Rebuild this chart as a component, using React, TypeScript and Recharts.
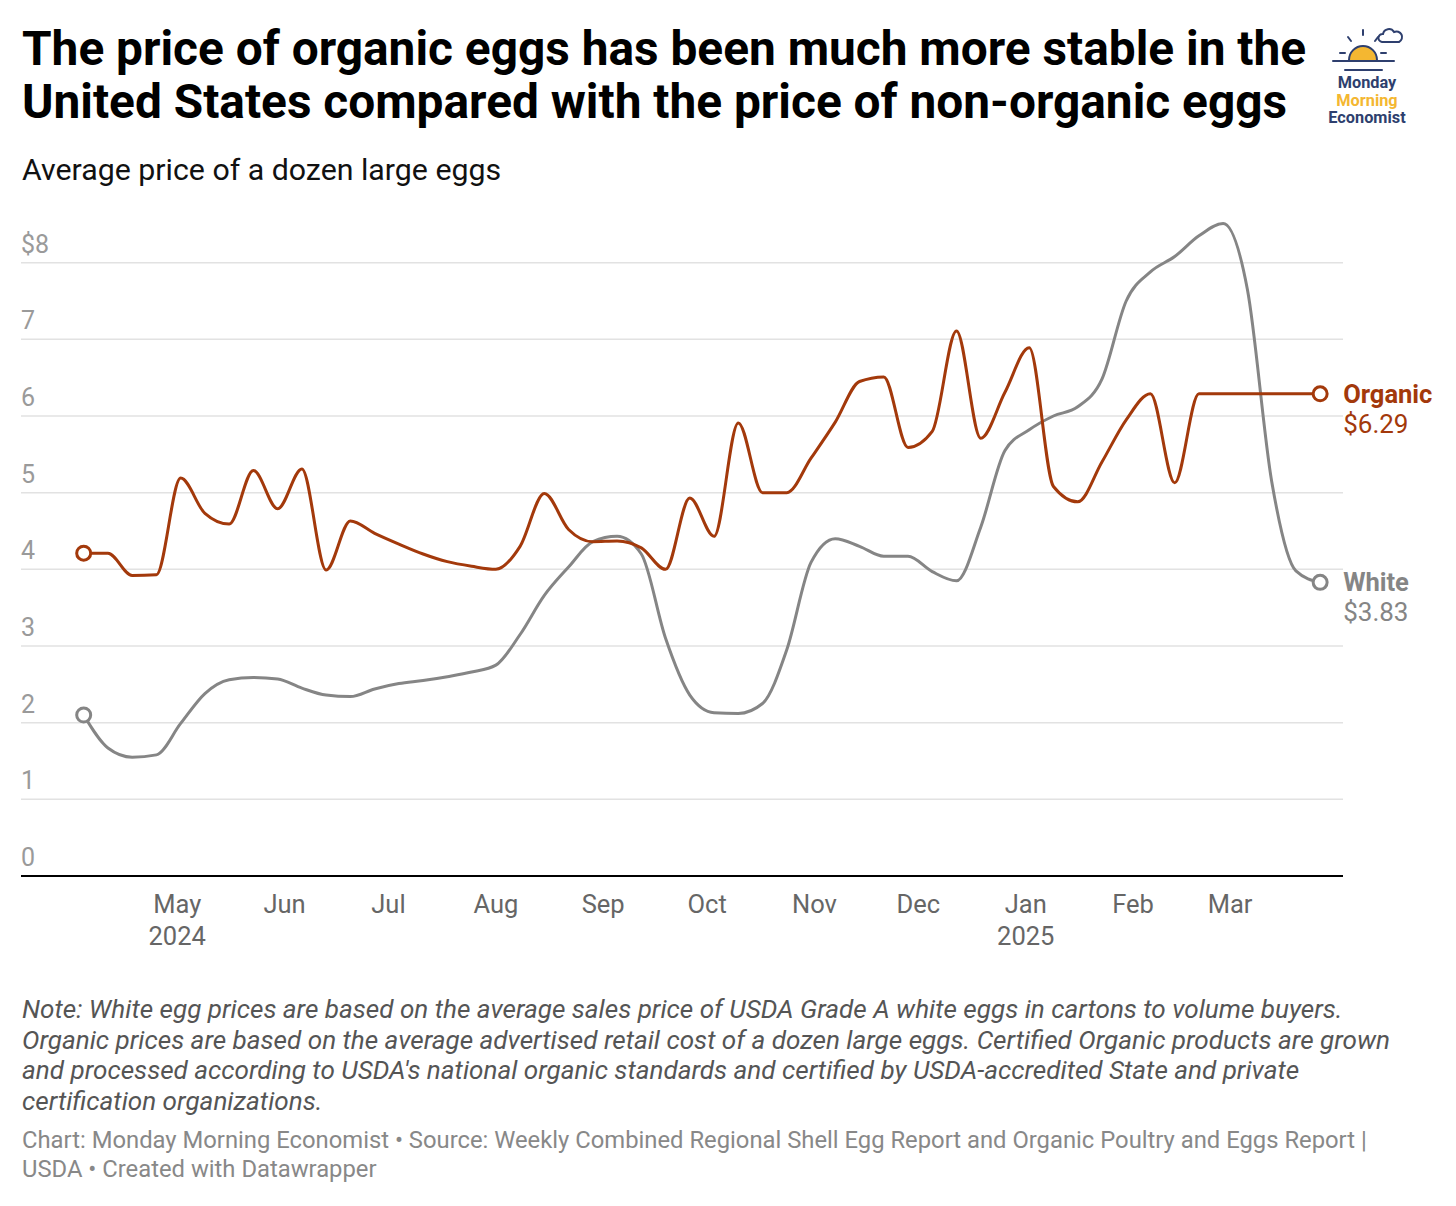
import React from "react"
import { CartesianGrid, Line, LineChart, XAxis, YAxis } from "recharts"

const dates = [
  "2024-04-04", "2024-04-11", "2024-04-18", "2024-04-25",
  "2024-05-02", "2024-05-09", "2024-05-16", "2024-05-23", "2024-05-30",
  "2024-06-06", "2024-06-13", "2024-06-20", "2024-06-27",
  "2024-07-04", "2024-07-11", "2024-07-18", "2024-07-25",
  "2024-08-01", "2024-08-08", "2024-08-15", "2024-08-22", "2024-08-29",
  "2024-09-05", "2024-09-12", "2024-09-19", "2024-09-26",
  "2024-10-03", "2024-10-10", "2024-10-17", "2024-10-24", "2024-10-31",
  "2024-11-07", "2024-11-14", "2024-11-21", "2024-11-28",
  "2024-12-05", "2024-12-12", "2024-12-19", "2024-12-26",
  "2025-01-02", "2025-01-09", "2025-01-16", "2025-01-23", "2025-01-30",
  "2025-02-06", "2025-02-13", "2025-02-20", "2025-02-27",
  "2025-03-06", "2025-03-13", "2025-03-20", "2025-03-27",
]

const organic = [
  4.21, 4.21, 3.92, 3.93,
  5.19, 4.73, 4.59, 5.29, 4.79,
  5.31, 3.99, 4.63, 4.47,
  4.33, 4.2, 4.1, 4.04,
  4.0, 4.3, 4.99, 4.52, 4.36,
  4.37, 4.28, 4.0, 4.93,
  4.43, 5.91, 5.0, 5.0, 5.45,
  5.92, 6.45, 6.51, 5.59,
  5.8, 7.11, 5.71, 6.31,
  6.89, 5.08, 4.88, 5.4, 5.95,
  6.29, 5.13, 6.29, 6.29,
  6.29, 6.29, 6.29, 6.29,
]

const white = [
  2.1, 1.67, 1.55, 1.58,
  1.99, 2.38, 2.56, 2.59, 2.57,
  2.45, 2.36, 2.34, 2.44,
  2.51, 2.55, 2.6, 2.66,
  2.75, 3.15, 3.66, 4.03, 4.36,
  4.43, 4.2, 3.1, 2.36,
  2.13, 2.12, 2.25, 2.95, 4.09,
  4.4, 4.3, 4.17, 4.17,
  3.97, 3.85, 4.55, 5.55,
  5.82, 6.0, 6.12, 6.48, 7.5,
  7.88, 8.08, 8.35, 8.51,
  7.65, 5.15, 3.98, 3.83,
]

const monthTicks = [
  "2024-05-01", "2024-06-01", "2024-07-01", "2024-08-01", "2024-09-01", "2024-10-01",
  "2024-11-01", "2024-12-01", "2025-01-01", "2025-02-01", "2025-03-01",
]
const monthNames = ["Jan", "Feb", "Mar", "Apr", "May", "Jun", "Jul", "Aug", "Sep", "Oct", "Nov", "Dec"]
const yTicks = [0, 1, 2, 3, 4, 5, 6, 7, 8]
const gridValues = [1, 2, 3, 4, 5, 6, 7, 8]

const ORANGE = "#a3390b"
const GREY = "#858585"

const day = (s: string) => Date.parse(s + "T00:00:00Z") / 86400000

const data = dates.map((d, i) => ({ t: day(d), organic: organic[i], white: white[i] }))

const xDomain = [day(dates[0]) - 18.1, day(dates[dates.length - 1]) + 6.6]

function MonthTick(props: any) {
  const { x, y, payload } = props
  const dt = new Date(payload.value * 86400000)
  const m = dt.getUTCMonth()
  const showYear = m === 4 || m === 0
  return (
    <g>
      <text x={x} y={y + 29} textAnchor="middle" fill="#666" fontSize={25.5} fontFamily="Roboto">
        {monthNames[m]}
      </text>
      {showYear && (
        <text x={x} y={y + 61} textAnchor="middle" fill="#666" fontSize={25.5} fontFamily="Roboto">
          {dt.getUTCFullYear()}
        </text>
      )}
    </g>
  )
}

function PriceTick(props: any) {
  const { x, y, payload } = props
  return (
    <text x={x} y={y - 10} textAnchor="start" fill="#9a9a9a" fontSize={25} fontFamily="Roboto">
      {payload.value === 8 ? "$8" : String(payload.value)}
    </text>
  )
}

function endDot(color: string, name: string, key: string) {
  return (props: any) => {
    const { cx, cy, index, payload } = props
    const last = index === data.length - 1
    if (index !== 0 && !last) return <g key={`${key}-${index}`} />
    return (
      <g key={`${key}-${index}`}>
        <circle cx={cx} cy={cy} r={7} fill="#fff" stroke={color} strokeWidth={3} />
        {last && (
          <>
            <text x={cx + 23} y={cy + 9} fill={color} fontSize={25.5} fontWeight={700} fontFamily="Roboto">
              {name}
            </text>
            <text x={cx + 23} y={cy + 39} fill={color} fontSize={26} fontFamily="Roboto">
              ${payload[key].toFixed(2)}
            </text>
          </>
        )}
      </g>
    )
  }
}

function Logo() {
  const navy = "#2e3f6e"
  const sun = "#f4b731"
  return (
    <svg width={96} height={110} style={{ position: "absolute", left: 1319, top: 20 }}>
      <g stroke={navy} strokeWidth={2} fill="none" strokeLinecap="round">
        <path d="M 30 40 A 14 14 0 0 1 58 40" fill={sun} />
        <line x1={44} y1={10} x2={44} y2={15} />
        <line x1={29} y1={17} x2={32} y2={21} />
        <line x1={59} y1={17} x2={56} y2={21} />
        <line x1={21} y1={33} x2={26} y2={33} />
        <line x1={62} y1={33} x2={67} y2={33} />
        <line x1={14} y1={41} x2={75} y2={41} />
        <line x1={26} y1={50} x2={63} y2={50} />
        <path d="M 63 22 a 4 4 0 0 1 1 -8 a 6 6 0 0 1 11 -2 a 5 5 0 0 1 5 10 z" />
      </g>
      <g fontFamily="Roboto" fontWeight={700} fontSize={16.3} textAnchor="middle">
        <text x={48} y={68} fill={navy}>Monday</text>
        <text x={48} y={86} fill={sun}>Morning</text>
        <text x={48} y={103} fill={navy}>Economist</text>
      </g>
    </svg>
  )
}

export default function App() {
  return (
    <div style={{ position: "absolute", left: 0, top: 0, width: 1456, height: 1206, background: "#fff", fontFamily: "Roboto", overflow: "hidden" }}>
      <div style={{ position: "absolute", left: 22, top: 23, fontSize: 47.8, fontWeight: 700, lineHeight: "53px", color: "#000", whiteSpace: "nowrap" }}>
        The price of organic eggs has been much more stable in the
        <br />
        United States compared with the price of non-organic eggs
      </div>
      <Logo />
      <div style={{ position: "absolute", left: 22, top: 152, fontSize: 30.3, lineHeight: "36px", color: "#111", whiteSpace: "nowrap" }}>
        Average price of a dozen large eggs
      </div>

      <div style={{ position: "absolute", left: 0, top: 0 }}>
        <LineChart width={1456} height={960} data={data} margin={{ top: 186, right: 113, bottom: 0, left: 21 }}>
          <CartesianGrid vertical={false} horizontalValues={gridValues} stroke="#e2e2e2" strokeWidth={1.5} />
          <XAxis
            dataKey="t"
            type="number"
            domain={xDomain}
            ticks={monthTicks.map(day)}
            height={84}
            axisLine={{ stroke: "#000", strokeWidth: 2 }}
            tickLine={false}
            tick={<MonthTick />}
            interval={0}
          />
          <YAxis
            type="number"
            domain={[0, 9]}
            ticks={yTicks}
            width={1}
            mirror
            axisLine={false}
            tickLine={false}
            tickSize={0}
            tickMargin={0}
            tick={<PriceTick />}
            interval={0}
          />
          <Line
            dataKey="white"
            type="monotone"
            stroke={GREY}
            strokeWidth={3}
            dot={endDot(GREY, "White", "white")}
            activeDot={false}
            isAnimationActive={false}
          />
          <Line
            dataKey="organic"
            type="monotone"
            stroke={ORANGE}
            strokeWidth={3}
            dot={endDot(ORANGE, "Organic", "organic")}
            activeDot={false}
            isAnimationActive={false}
          />
        </LineChart>
      </div>

      <div style={{ position: "absolute", left: 22, top: 994, fontSize: 26.1, lineHeight: "30.7px", color: "#555", fontStyle: "italic", whiteSpace: "nowrap" }}>
        Note: White egg prices are based on the average sales price of USDA Grade A white eggs in cartons to volume buyers.
        <br />
        Organic prices are based on the average advertised retail cost of a dozen large eggs. Certified Organic products are grown
        <br />
        and processed according to USDA's national organic standards and certified by USDA-accredited State and private
        <br />
        certification organizations.
      </div>
      <div style={{ position: "absolute", left: 22, top: 1126, fontSize: 23.8, lineHeight: "29px", color: "#888", whiteSpace: "nowrap" }}>
        Chart: Monday Morning Economist • Source: Weekly Combined Regional Shell Egg Report and Organic Poultry and Eggs Report |
        <br />
        USDA • Created with Datawrapper
      </div>
    </div>
  )
}
